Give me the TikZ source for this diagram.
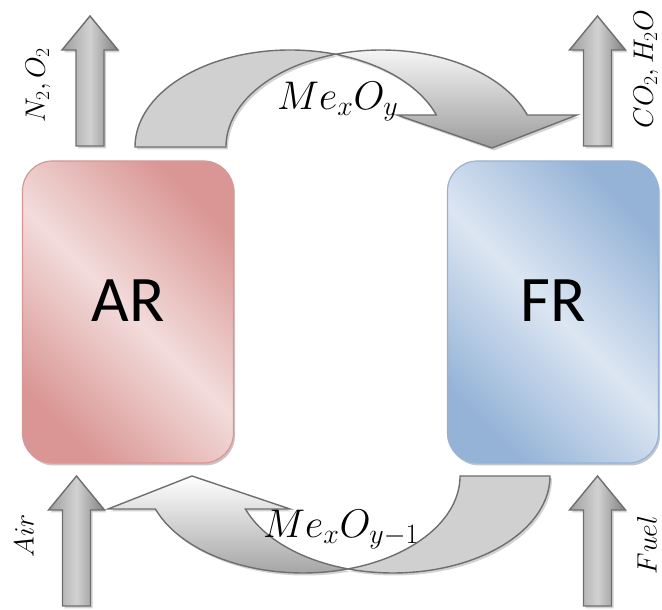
\RequirePackage{fix-cm}
\documentclass[tikz,border=0pt]{standalone}
\usepackage{fontspec}
\newfontfamily\boxfont{Carlito}
\usetikzlibrary{shadows}

\definecolor{arDark}{HTML}{D99694}
\definecolor{arLight}{HTML}{F2DCDB}
\definecolor{frDark}{HTML}{95B3D7}
\definecolor{frLight}{HTML}{DCE6F2}
\definecolor{flowLine}{HTML}{6E6E6E}
\definecolor{frontGray}{HTML}{D0D0D0}
\definecolor{backGray}{HTML}{9C9C9C}

\begin{document}
\begin{tikzpicture}[x=1pt,y=1pt]
  \tikzset{reactor/.style={rounded corners=30pt, minimum width=211pt, minimum height=302pt,
      inner sep=0pt, line width=1.2pt, text depth=22pt,
      drop shadow={shadow xshift=1.5pt, shadow yshift=-2.5pt, opacity=0.45},
      font=\boxfont\fontsize{65}{65}\selectfont}}
  \tikzset{flow/.style={draw=flowLine, line width=1.4pt, line join=miter,
      drop shadow={shadow xshift=2pt, shadow yshift=-2.5pt, opacity=0.35}}}
  \tikzset{gas flow/.style={flow, left color=black!38, right color=black!50, middle color=black!18}}
  \tikzset{stream/.style={rotate=90, inner sep=0pt, font=\fontsize{28}{28}\selectfont}}
  \tikzset{carrier/.style={anchor=base west, inner sep=0pt, font=\fontsize{40}{40}\selectfont}}
  \useasboundingbox (0,0) rectangle (662,610);

  % reactors
  \node[reactor, draw=arDark, top color=arDark, bottom color=arDark, middle color=arLight,
    shading angle=-45] (AR) at (128,298) {AR};
  \node[reactor, draw=frDark, top color=frDark, bottom color=frDark, middle color=frLight,
    shading angle=-45] (FR) at (553,298) {FR};

  % gas in and out
  \foreach \cx/\yb/\yt in {90/464/594, 597.5/464/594, 76.5/4/134, 597.5/4/134}
    \path[gas flow] (\cx-14,\yb) -- (\cx+14,\yb) -- (\cx+14,\yt-34) -- (\cx+28,\yt-34)
      -- (\cx,\yt) -- (\cx-28,\yt-34) -- (\cx-14,\yt-34) -- cycle;

  % oxidised carrier, AR -> FR
  \path[flow, top color=white, bottom color=backGray]
    (335.5,555.7) arc[start angle=107.07, end angle=19.26, x radius=155pt, y radius=97pt]
    -- (577,495) -- (492,462) -- (397,495) -- (436.3,495)
    arc[start angle=19.26, end angle=72.93, x radius=155pt, y radius=97pt] -- cycle;
  \path[flow, fill=frontGray]
    (135,463) arc[start angle=180, end angle=72.93, x radius=155pt, y radius=97pt]
    arc[start angle=107.07, end angle=180, x radius=155pt, y radius=97pt] -- cycle;

  % reduced carrier, FR -> AR
  \path[flow, top color=white, bottom color=backGray]
    (348,41.1) arc[start angle=-73.35, end angle=-160.1, x radius=157pt, y radius=97pt]
    -- (108,101) -- (192,134) -- (290,101) -- (245.4,101)
    arc[start angle=-160.1, end angle=-106.65, x radius=157pt, y radius=97pt] -- cycle;
  \path[flow, fill=frontGray]
    (550,134) arc[start angle=0, end angle=-106.65, x radius=157pt, y radius=97pt]
    arc[start angle=-73.35, end angle=0, x radius=157pt, y radius=97pt] -- cycle;

  % labels
  \node[carrier] (oxide) at (277,500) {$Me_xO_y$};
  \node[carrier] (reduced) at (263,72) {$Me_xO_{y-1}$};
  \node[stream] (exhaustAR) at (38,525) {$N_2, O_2$};
  \node[stream] (exhaustFR) at (646,541) {$CO_2, H_2O$};
  \node[stream] (air) at (24,74) {$Air$};
  \node[stream] (fuel) at (647,65) {$Fuel$};
\end{tikzpicture}
\end{document}
